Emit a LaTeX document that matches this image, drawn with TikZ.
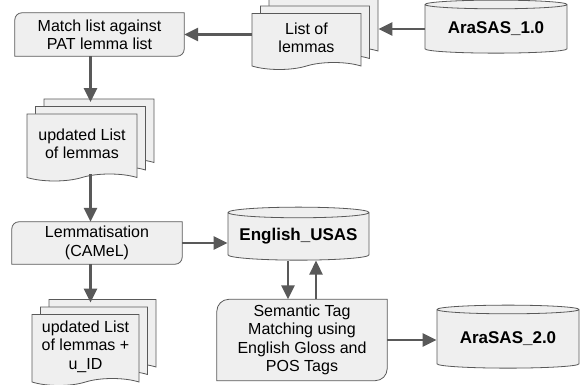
\documentclass[tikz,border=0pt]{standalone}
\usepackage{fontspec}
\setmainfont{Liberation Sans}
\usetikzlibrary{arrows.meta,shapes.geometric,shapes.symbols,shadows,backgrounds}
\definecolor{boxfill}{HTML}{EFEFEF}
\definecolor{boxline}{HTML}{595959}
\definecolor{arrowgray}{HTML}{595959}

\begin{document}
\begin{tikzpicture}[
            x=1pt,y=-1pt,
            every node/.style={font=\fontsize{16}{18.4}\selectfont},
            proc/.style={rectangle,align=center,inner sep=0pt},
            procframe/.style={draw=boxline,fill=boxfill,line width=.8pt},
            doc/.style={tape,tape bend top=none,tape bend height=7pt,draw=boxline,fill=boxfill,line width=.8pt,
              align=center,inner sep=0pt,
              double copy shadow={shadow xshift=8.5pt,shadow yshift=7.5pt,draw=boxline,fill=boxfill,line width=.8pt}},
            db/.style={cylinder,shape border rotate=90,aspect=.09,draw=boxline,fill=boxfill,line width=.8pt,
              font=\fontsize{17}{20}\selectfont\bfseries,inner sep=0pt},
            link/.style={draw=arrowgray,line width=2.6pt,-{Triangle[length=14pt,width=13pt]}}
          ]
          \useasboundingbox (0,0) rectangle (584,385);

          %sources
          \node[db,minimum width=142,minimum height=53] (ara1) at (496,29) {AraSAS\_1.0};
          \node[doc,minimum width=109,minimum height=56] (lst) at (306.5,38) {List of\\lemmas};

          %steps
          \node[proc,minimum width=169,minimum height=43] (match) at (99.5,34.5) {Match list against\\PAT lemma list};
          \node[doc,minimum width=110,minimum height=67] (upd) at (82,144) {updated List\\of lemmas};
          \node[proc,minimum width=170,minimum height=42] (lemm) at (97,243) {Lemmatisation\\(CAMeL)};
          \node[doc,minimum width=107,minimum height=71] (uid) at (85.5,346.5) {updated List\\of lemmas +\\u\_ID};
          \node[db,minimum width=141,minimum height=53] (eng) at (298.5,236.5) {English\_USAS};
          \node[proc,minimum width=170,minimum height=81] (sem) at (302,340) {Semantic Tag\\Matching using\\English Gloss and\\POS Tags};
          \node[db,minimum width=142,minimum height=63] (ara2) at (508,339) {AraSAS\_2.0};

          %frames of the steps
          \begin{scope}[on background layer]
            \foreach \n/\r in {match/7,lemm/7,sem/12}
              \path[procframe] (\n.east) -- (\n.north east) -- (\n.north) [rounded corners=\r pt]
                -- (\n.north west) -- (\n.west) [sharp corners] -- (\n.south west) -- (\n.south)
                [rounded corners=\r pt] -- (\n.south east) -- cycle;
          \end{scope}

          %arrows
          \coordinate (updtop) at ([xshift=8.5pt,yshift=11.5pt]upd.north);
          \coordinate (uidtop) at ([yshift=11.5pt]uid.north);
          \coordinate (semdn) at ([xshift=-14pt]sem.north);
          \coordinate (semup) at ([xshift=14pt]sem.north);
          \path[every edge/.style=link]
          (ara1.west) edge[shorten >=17pt] (ara1.west -| lst.east)
          (match.east -| lst.west) edge (match.east)
          (match.south -| updtop) edge (updtop)
          (upd.south -| updtop) edge (lemm.north -| updtop)
          (lemm.east) edge (lemm.east -| eng.west)
          (lemm.south -| updtop) edge (uidtop -| updtop)
          (semdn |- eng.south) edge (semdn)
          (semup) edge (semup |- eng.south)
          (sem.east) edge (sem.east -| ara2.west)
          ;

\end{tikzpicture}
\end{document}
